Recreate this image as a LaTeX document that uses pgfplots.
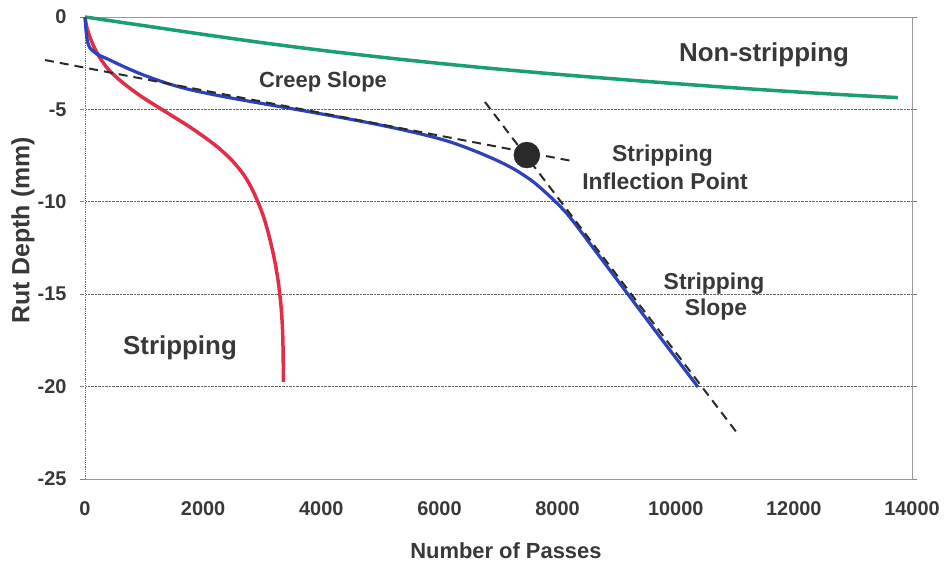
\documentclass[border=0pt]{standalone}
\usepackage{fontspec}
\setmainfont{Liberation Sans}
\usepackage{pgfplots}
\pgfplotsset{compat=1.18}
\definecolor{txt}{HTML}{383838}
\definecolor{cgreen}{RGB}{25,160,110}
\definecolor{cblue}{RGB}{45,65,185}
\definecolor{cred}{RGB}{225,45,70}
\definecolor{dashc}{HTML}{2A2A2A}
\begin{document}
\begin{tikzpicture}
\path[use as bounding box] (0,0) rectangle (945bp,569bp);
\begin{axis}[
  at={(85bp,90bp)}, anchor=south west,
  scale only axis, width=827bp, height=462bp,
  xmin=0, xmax=14000, ymin=-25, ymax=0,
  xtick={0,2000,...,14000}, ytick={-25,-20,...,0},
  scaled x ticks=false,
  axis line style={draw=gray!80, line width=0.8bp},
  ymajorgrids, grid style={densely dotted, gray!80!black, line width=0.7bp},
  tick align=outside, major tick length=5bp,
  xtick style={draw=none}, ytick style={draw=gray, line width=0.6bp},
  /pgf/number format/assume math mode=true,
  /pgf/number format/1000 sep={},
  ticklabel style={font=\bfseries\fontsize{20}{24}\selectfont, text=txt},
  xticklabel style={yshift=-14bp},
  yticklabel style={xshift=-10bp},
  clip=false,
  xlabel={Number of Passes},
  xlabel style={at={(axis description cs:0.509,-0.171)}, anchor=base, font=\bfseries\fontsize{22}{26}\selectfont, text=txt},
  ylabel={Rut Depth (mm)},
  ylabel style={at={(axis description cs:-0.075,0.538)}, anchor=center, font=\bfseries\fontsize{25}{30}\selectfont, text=txt},
]
% left axis drawn dotted as in the reference
\draw[white, line width=1.2bp] (rel axis cs:0,0) -- (rel axis cs:0,1);
\draw[gray!80!black, densely dotted, line width=0.8bp] (rel axis cs:0,0) -- (rel axis cs:0,1);
% Non-stripping
\addplot[cgreen, line width=3.5bp, smooth] coordinates {
(0,0) (1000,-0.47) (2000,-0.94) (3000,-1.39) (4000,-1.80) (5000,-2.17)
(6000,-2.51) (7000,-2.82) (8000,-3.10) (9000,-3.36) (10000,-3.605)
(11000,-3.835) (12000,-4.045) (13000,-4.235) (13760,-4.36)};
% Stripping (red)
\addplot[cred, line width=3.5bp, smooth, tension=0.5] coordinates {
(0,0) (30,-0.55) (80,-1.05) (150,-1.6) (250,-2.2) (400,-2.85) (600,-3.45)
(800,-3.95) (1000,-4.4) (1250,-4.9) (1500,-5.4) (1750,-5.9) (2000,-6.45)
(2250,-7.05) (2500,-7.8) (2700,-8.6) (2850,-9.45) (3000,-10.6) (3100,-11.65)
(3200,-13.0) (3270,-14.3) (3320,-15.7) (3345,-17.0) (3355,-18.4) (3358,-19.75)};
% Blue curve
\addplot[cblue, line width=3.2bp, smooth, tension=0.5] coordinates {
(0,0) (30,-1.1) (80,-1.65) (200,-2.0) (400,-2.3) (700,-2.75) (1000,-3.15)
(1400,-3.6) (1800,-3.95) (2300,-4.28) (2800,-4.57) (3300,-4.85) (3800,-5.13)
(4300,-5.42) (4800,-5.72) (5300,-6.05) (5800,-6.42) (6200,-6.78) (6600,-7.25)
(7000,-7.8) (7300,-8.3) (7600,-8.95) (7900,-9.8) (8200,-10.8) (8718,-12.99)
(9226,-15.15) (9734,-17.32) (10377,-20.02)};
% Creep slope line
\addplot[dashc, line width=2bp, dash pattern=on 9bp off 6bp] coordinates {(-677,-2.33) (8239,-7.79)};
% Stripping slope line
\addplot[dashc, line width=2bp, dash pattern=on 9bp off 6bp] coordinates {(6771,-4.6) (11072,-22.65)};
% Inflection point
\addplot[only marks, mark=*, mark size=13bp, mark options={fill=dashc, draw=dashc}] coordinates {(7480,-7.47)};
% Annotations
\node[anchor=base, font=\bfseries\fontsize{26}{30}\selectfont, text=txt] at (axis cs:11495,-2.435) {Non-stripping};
\node[anchor=base, font=\bfseries\fontsize{22}{26}\selectfont, text=txt] at (axis cs:4029,-3.84) {Creep Slope};
\node[anchor=base, font=\bfseries\fontsize{23}{27}\selectfont, text=txt] at (axis cs:9776,-7.83) {Stripping};
\node[anchor=base, font=\bfseries\fontsize{23}{27}\selectfont, text=txt] at (axis cs:9819,-9.36) {Inflection Point};
\node[anchor=base, font=\bfseries\fontsize{23}{27}\selectfont, text=txt] at (axis cs:10648,-14.72) {Stripping};
\node[anchor=base, font=\bfseries\fontsize{23}{27}\selectfont, text=txt] at (axis cs:10682,-16.13) {Slope};
\node[anchor=base, font=\bfseries\fontsize{26}{30}\selectfont, text=txt] at (axis cs:1608,-18.29) {Stripping};
\end{axis}
\end{tikzpicture}
\end{document}
